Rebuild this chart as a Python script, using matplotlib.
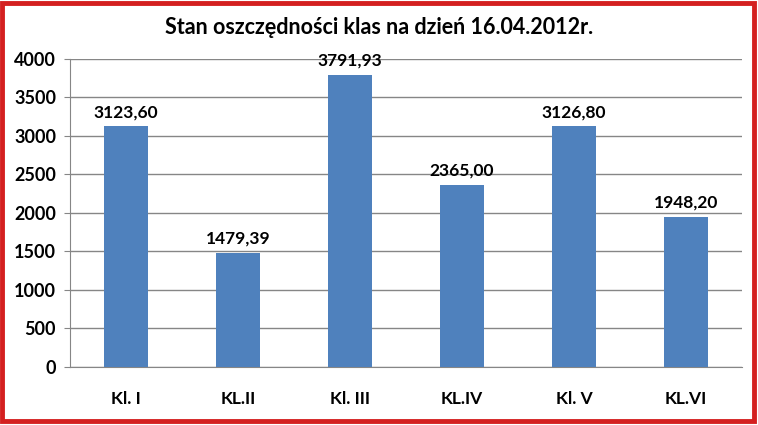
import matplotlib.pyplot as plt
from matplotlib.patches import Rectangle

# Data
categories = ['Kl. I', 'KL.II', 'Kl. III', 'KL.IV', 'Kl. V', 'KL.VI']
savings = [3123.60, 1479.39, 3791.93, 2365.00, 3126.80, 1948.20]
y_ticks = [0, 500, 1000, 1500, 2000, 2500, 3000, 3500, 4000]

plt.rcParams['font.family'] = ['Lato', 'DejaVu Sans']

fig = plt.figure(figsize=(7.58, 4.25), dpi=100)
ax = fig.add_axes([0.0923, 0.1365, 0.8867, 0.7247])

x = range(len(categories))
ax.bar(x, savings, width=0.4, color='#4F81BD', zorder=3)

# value labels with comma decimal separator
for xi, v in zip(x, savings):
    ax.text(xi, v + 80, f'{v:.2f}'.replace('.', ','), ha='center', va='bottom',
            fontsize=12.5, fontweight='bold')

ax.set_xlim(-0.5, len(categories) - 0.5)
ax.set_ylim(0, 4000)
ax.set_yticks(y_ticks)
ax.set_yticklabels([str(t) for t in y_ticks], fontsize=13, fontweight='bold')
ax.set_xticks(list(x))
ax.set_xticklabels(categories, fontsize=12.5, fontweight='bold')
ax.tick_params(axis='x', length=0, pad=17)
ax.tick_params(axis='y', length=4, pad=6, color='#868686')

ax.grid(axis='y', color='#868686', linewidth=1, zorder=0)
for side in ['top', 'right']:
    ax.spines[side].set_visible(False)
for side in ['left', 'bottom']:
    ax.spines[side].set_color('#868686')

fig.text(0.5, 0.935, 'Stan oszczędności klas na dzień 16.04.2012r.', ha='center',
         va='center', fontsize=15.5, fontweight='bold')

# red frame around the whole chart
fig.patches.append(Rectangle((0.003, 0.01), 0.992, 0.982, transform=fig.transFigure,
                             fill=False, edgecolor='#D42020', linewidth=3.5))

fig.savefig('out.png', dpi=100)
